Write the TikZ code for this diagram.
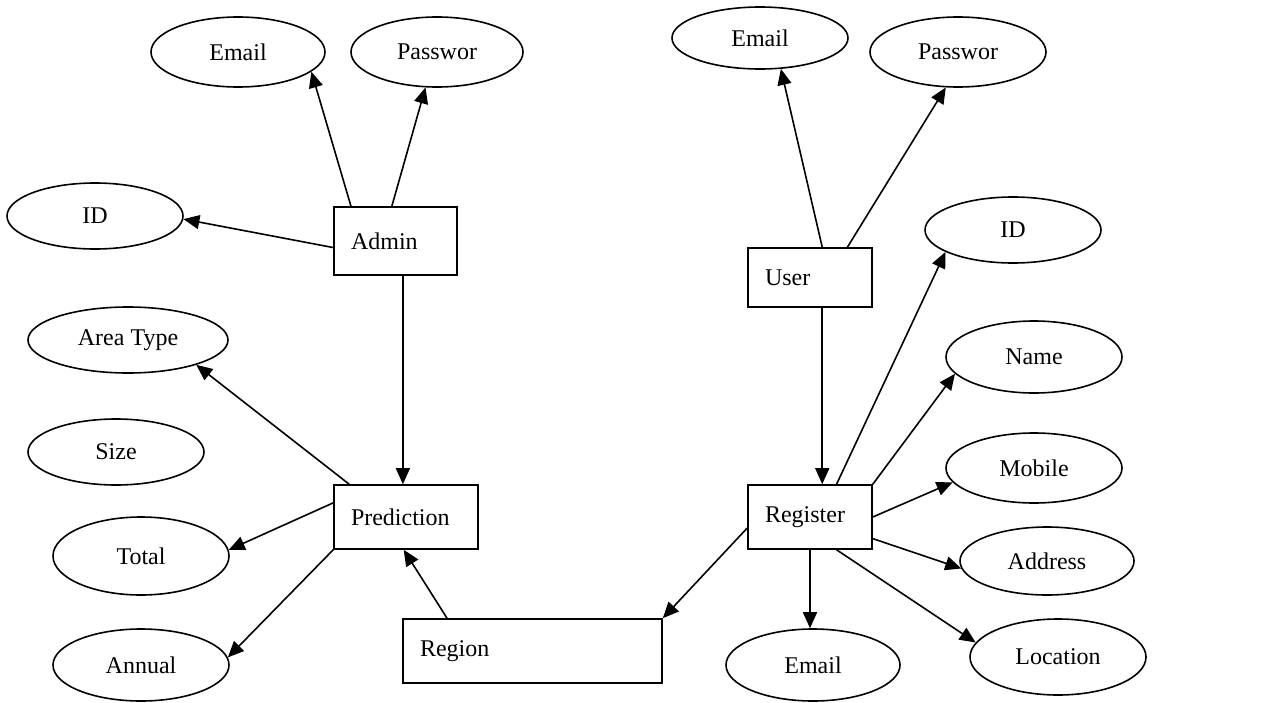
\documentclass[tikz,border=0pt]{standalone}
\usepackage{fontspec}
\setmainfont{Liberation Serif}
\usetikzlibrary{shapes.geometric,arrows.meta}

\begin{document}
\begin{tikzpicture}[x=0.5pt,y=-0.5pt,
  ent/.style={draw, line width=0.8pt, rectangle, align=left, inner xsep=8.5pt, inner ysep=0pt, font=\fontsize{12}{14}\selectfont},
  attr/.style={draw, line width=0.8pt, ellipse, inner sep=0pt, minimum width=88pt, minimum height=35pt, font=\fontsize{12}{14}\selectfont},
  link/.style={line width=0.8pt, -{Triangle[length=8pt,width=7pt]}}]
\useasboundingbox (0,0) rectangle (1270,702);
% entities
\node [ent, text width=44.5pt, minimum height=34pt] (admin) at (395.5,241) {Admin};
\node [ent, text width=55pt, minimum height=32pt] (pred) at (406,517) {Prediction};
\node [ent, text width=112.5pt, minimum height=32pt] (region) at (532.5,651) {Region};
\node [ent, text width=45pt, minimum height=29.5pt] (user) at (810,277.5) {User};
\node [ent, text width=45pt, minimum height=32pt] (register) at (810,517) {Register};
% admin side
\node [attr, minimum width=87pt] (aemail) at (238,52) {Email};
\node [attr, minimum width=86pt] (apass) at (437,52) {Passwor};
\node [attr, minimum height=33pt] (aid) at (95,216) {ID};
\node [attr, minimum width=100pt, minimum height=33pt] (area) at (128,340) {Area Type};
\node [attr, minimum height=33pt] (size) at (116,452) {Size};
\node [attr, minimum height=39pt] (total) at (141,556) {Total};
\node [attr, minimum height=36pt] (annual) at (141,665) {Annual};
% user side
\node [attr, minimum height=31pt] (uemail) at (760,38) {Email};
\node [attr] (upass) at (958,52) {Passwor};
\node [attr, minimum height=33pt] (uid) at (1013,230) {ID};
\node [attr, minimum height=36pt] (name) at (1034,357) {Name};
\node [attr] (mobile) at (1034,468) {Mobile};
\node [attr, minimum width=87pt, minimum height=34pt] (address) at (1047,561) {Address};
\node [attr, minimum height=38pt] (location) at (1058,657) {Location};
\node [attr, minimum width=87pt, minimum height=36pt] (remail) at (813,665) {Email};
% links
\draw [link] (admin.142) -- (aemail.-15);
\draw [link] (admin.96) -- (apass.252);
\draw [link] (admin.186) -- (aid.358);
\draw [link] (admin.282) -- (admin.282 |- pred.north);
\draw [link] (pred.150) -- (area.340);
\draw [link] (pred.169) -- (total.4);
\draw [link] (pred.south west) -- (annual.5);
\draw [link] (region.159) -- (pred.266);
\draw [link] (register.190) -- (region.north east);
\draw [link] (user.68) -- (uemail.304);
\draw [link] (user.39) -- (upass.251);
\draw [link] (user.292) -- (user.292 |- register.north);
\draw [link] (register.51) -- (uid.198);
\draw [link] (register.north east) -- (name.192);
\draw [link] (register.east) -- (mobile.190);
\draw [link] (register.341) -- (address.185);
\draw [link] (register.309) -- (location.170);
\draw [link] (register.south) -- (register.south |- remail.north);
\end{tikzpicture}
\end{document}
